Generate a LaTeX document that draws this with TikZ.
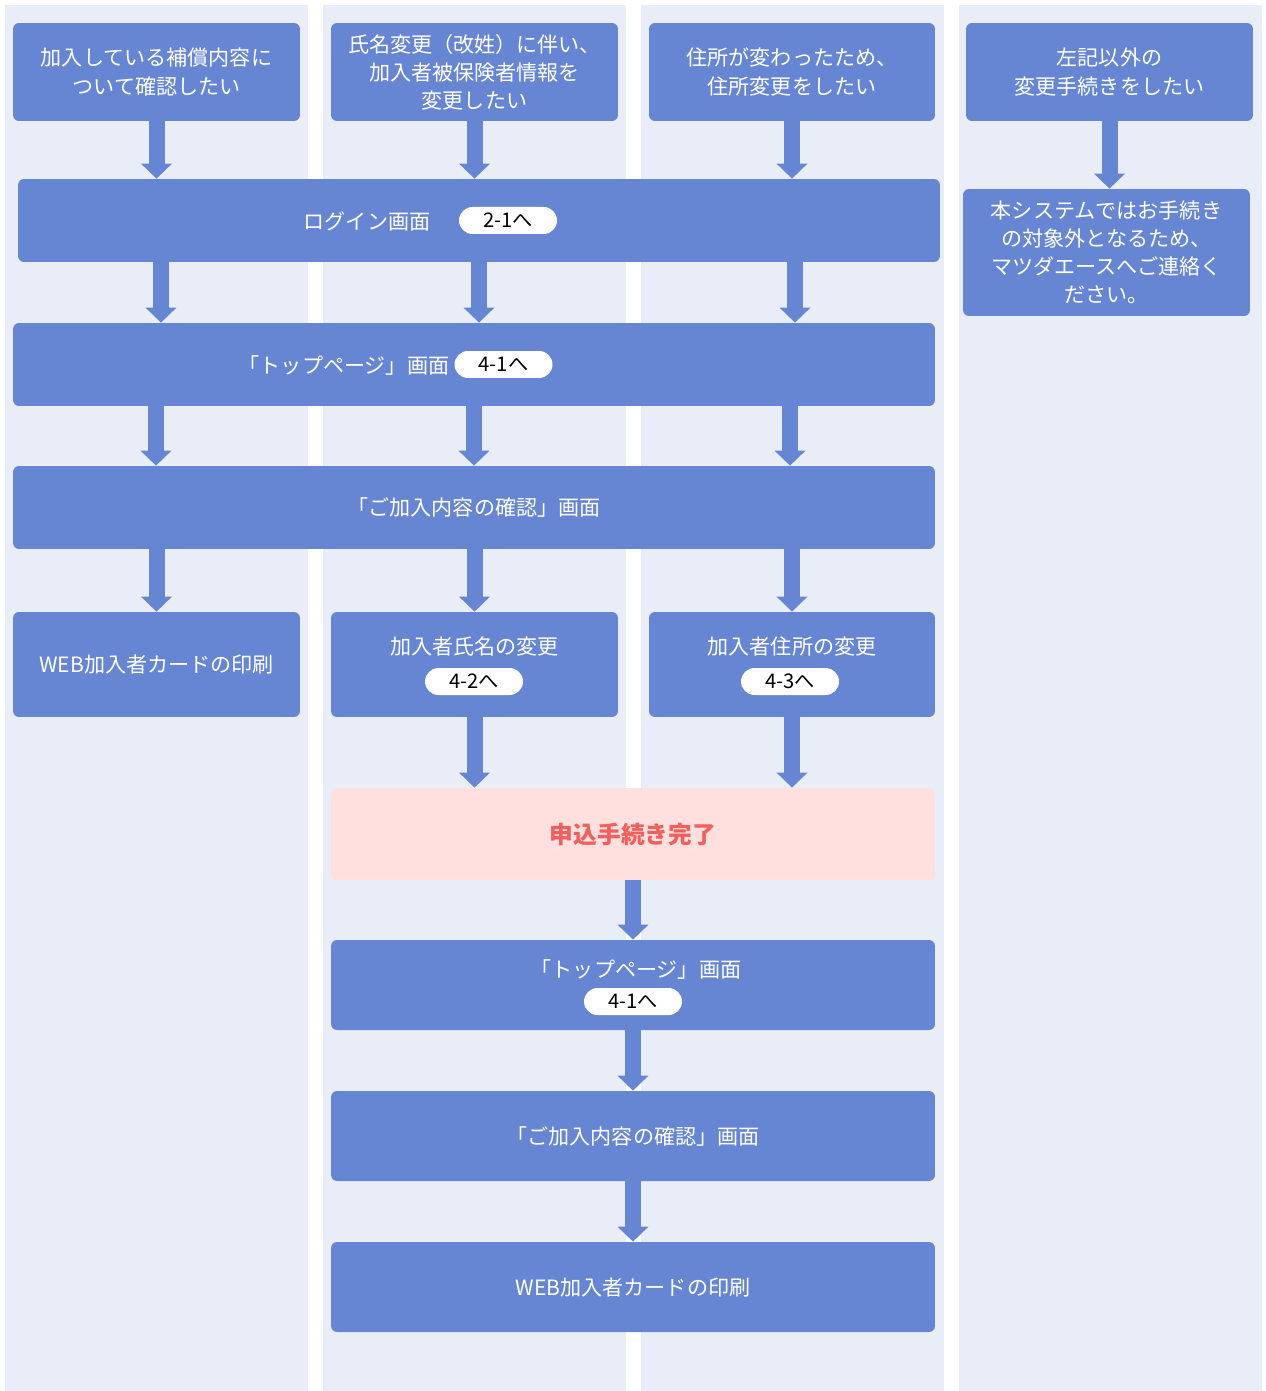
\documentclass[tikz,border=0pt]{standalone}
\usepackage{fontspec}
\setmainfont{Noto Sans CJK JP}
\usepackage{tikz}
\usetikzlibrary{arrows.meta,backgrounds,calc}
\definecolor{lanebg}{HTML}{E9EDF8}
\definecolor{boxblue}{HTML}{6685D2}
\definecolor{donebg}{HTML}{FFE0DE}
\definecolor{donetxt}{HTML}{F25F5C}
\tikzset{
  stepbox/.style={fill=boxblue, rounded corners=0.12cm, text=white, align=center,
    inner sep=0pt, font=\fontsize{12}{16}\selectfont},
  donebox/.style={stepbox, fill=donebg, text=donetxt, font=\fontsize{13.5}{16}\selectfont\bfseries},
  steptxt/.style={text=white, align=center, font=\fontsize{12}{16}\selectfont},
  pill/.style={fill=white, rounded corners=0.27cm, minimum width=1.96cm, minimum height=0.54cm,
    inner sep=0pt, text=black, font=\fontsize{11.5}{13}\selectfont},
  flow/.style={draw=boxblue, line width=0.32cm, -{Triangle[width=0.6cm,length=0.3cm]}}
}
\begin{document}
\begin{tikzpicture}[x=0.02cm,y=-0.02cm]
\useasboundingbox (0,0) rectangle (1265,1391);
% lanes
\fill[lanebg] (5,5) rectangle (308,1391);
\fill[lanebg] (323,5) rectangle (626,1391);
\fill[lanebg] (641,5) rectangle (944,1391);
\fill[lanebg] (959,5) rectangle (1262,1391);

\node[stepbox, minimum width=5.74cm, minimum height=1.96cm] (q1) at (156.5,72) {加入している補償内容に\\ついて確認したい};
\node[stepbox, minimum width=5.74cm, minimum height=1.96cm] (q2) at (474.5,72) {氏名変更（改姓）に伴い、\\加入者被保険者情報を\\変更したい};
\node[stepbox, minimum width=5.72cm, minimum height=1.96cm] (q3) at (792,72) {住所が変わったため、\\住所変更をしたい};
\node[stepbox, minimum width=5.74cm, minimum height=1.96cm] (q4) at (1109.5,72) {左記以外の\\変更手続きをしたい};
\node[stepbox, minimum width=5.74cm, minimum height=2.54cm] (other) at (1106.5,252.5) {本システムではお手続き\\の対象外となるため、\\マツダエースへご連絡く\\ださい。};

\node[stepbox, minimum width=18.44cm, minimum height=1.66cm] (login) at (479,220.5) {};
\node[steptxt] (logintxt) at (367,221) {ログイン画面};
\node[pill] (loginref) at (508,220.5) {2-1へ};

\node[stepbox, minimum width=18.44cm, minimum height=1.66cm] (top) at (474,364.5) {};
\node[steptxt] (toptxt) at (344,365) {「トップページ」画面};
\node[pill] (topref) at (503.5,364.5) {4-1へ};

\node[stepbox, minimum width=18.44cm, minimum height=1.66cm] (confirm) at (474,507.5) {「ご加入内容の確認」画面};

\node[stepbox, minimum width=5.74cm, minimum height=2.1cm] (card) at (156.5,664.5) {WEB加入者カードの印刷};
\node[stepbox, minimum width=5.74cm, minimum height=2.1cm] (name) at (474.5,664.5) {};
\node[steptxt] (nametxt) at (474.5,646) {加入者氏名の変更};
\node[pill] (nameref) at (474,681.5) {4-2へ};
\node[stepbox, minimum width=5.72cm, minimum height=2.1cm] (addr) at (792,664.5) {};
\node[steptxt] (addrtxt) at (792,646) {加入者住所の変更};
\node[pill] (addrref) at (790,681.5) {4-3へ};

\node[donebox, minimum width=12.08cm, minimum height=1.84cm] (done) at (633,834) {申込手続き完了};

\node[stepbox, minimum width=12.08cm, minimum height=1.8cm] (top2) at (633,985) {};
\node[steptxt] (top2txt) at (636,969) {「トップページ」画面};
\node[pill] (top2ref) at (633,1001.5) {4-1へ};
\node[stepbox, minimum width=12.08cm, minimum height=1.8cm] (confirm2) at (633,1136) {「ご加入内容の確認」画面};
\node[stepbox, minimum width=12.08cm, minimum height=1.8cm] (card2) at (633,1287) {WEB加入者カードの印刷};

% arrows
\draw[flow] (q1.south) -- (q1.south |- login.north);
\draw[flow] (q2.south) -- (q2.south |- login.north);
\draw[flow] (q3.south) -- (q3.south |- login.north);
\draw[flow] (q4.south) -- (other.north -| q4.south);
\foreach \x in {161,479,795}
  \draw[flow] (login.south -| \x,0) -- (top.north -| \x,0);
\foreach \x in {156,474,790}
  \draw[flow] (top.south -| \x,0) -- (confirm.north -| \x,0);
\draw[flow] (confirm.south -| card.south) -- (card.north);
\draw[flow] (confirm.south -| name.south) -- (name.north);
\draw[flow] (confirm.south -| addr.south) -- (addr.north);
\draw[flow] (name.south) -- (done.north -| name.south);
\draw[flow] (addr.south) -- (done.north -| addr.south);
\draw[flow] (done.south) -- (top2.north);
\draw[flow] (top2.south) -- (confirm2.north);
\draw[flow] (confirm2.south) -- (card2.north);
\end{tikzpicture}
\end{document}
